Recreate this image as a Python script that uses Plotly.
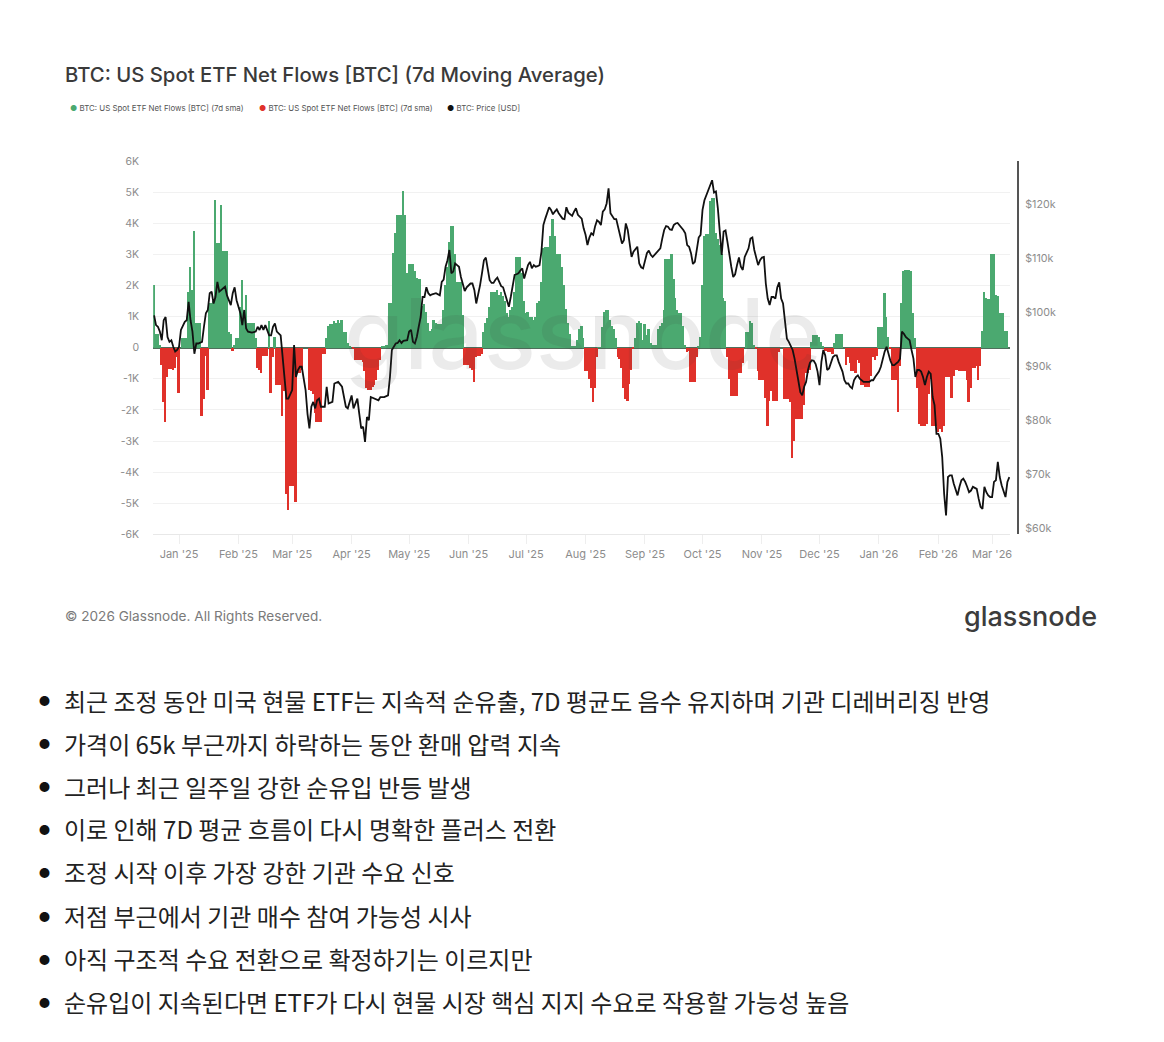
import pandas as pd
import plotly.graph_objects as go

# Daily ETF net flows (BTC, 7d sma) per month
flow_dec24 = [2000,430,430,100,-550,-1750,-2400,-950,-680,-680,-700,-650,-300]
flow_jan25 = [-1450,0,300,300,300,1800,2600,1850,3750,780,780,780,-2200,-1650,-250,-1350,1450,1450,1500,4750,3350,3350,4600,3100,3100,3100,500,450,-100,100,300]
flow_feb25 = [300,1300,2170,1000,1700,800,800,800,800,300,-650,-700,-800,-250,-250,-250,850,-1450,-300,350,-1200,-1200,-1200,-2200,-1400,-4700,-5200,-4450]
flow_mar25 = [-4450,-4450,-4950,-800,-800,-700,0,0,0,-1350,-1400,-1500,-2100,-2400,-2400,-2400,-200,-200,300,700,750,750,850,800,900,800,900,500,500,150,50]
flow_apr25 = [0,-50,-380,-380,-380,-400,-450,-750,-1300,-1350,-1350,-1250,-1200,-1050,-700,-400,50,50,80,100,1450,1450,3050,3700,4250,4250,4250,5050,4250,2400]
flow_may25 = [2700,2700,2700,2450,2250,2200,2200,1350,1400,1150,800,550,600,900,800,750,750,750,1200,2000,2600,3400,3900,3900,3000,2100,2100,2100,1050,-550,-550]
flow_jun25 = [-550,-650,-700,-1100,-300,-250,-250,-200,500,800,950,1300,1800,1800,1800,1850,1700,1800,1650,1500,1100,1000,1200,1300,1800,2900,2900,2900,2400,1500]
flow_jul25 = [1100,1150,1000,1000,900,1000,1450,1500,2100,3200,3250,3250,3250,3600,4150,3600,3000,3000,3000,2600,2000,1250,800,450,50,50,50,250,600,700,300]
flow_aug25 = [-750,-750,-1000,-1300,-1750,-1300,-300,20,20,650,1150,1200,1200,900,700,600,300,-300,-350,-650,-1300,-1650,-1700,-1150,-700,-50,300,800,850,800,250]
flow_sep25 = [750,400,600,150,100,100,100,600,700,800,1200,2850,2850,2850,3000,2200,1600,1200,1100,1100,700,100,-150,-100,-1100,-1100,-1100,-300,50,350]
flow_oct25 = [2000,3600,3650,3650,4700,4800,4800,3700,3500,3300,3000,1600,1500,-300,-1000,-1550,-1550,-1550,-1550,-800,-800,-500,0,500,500,850,800,100,-50,-750,-1050]
flow_nov25 = [-1050,-1050,-1600,-2500,-1700,-1400,-1700,-1700,-1700,-150,0,0,-1650,-1650,-1650,-1750,-3550,-3000,-2300,-2300,-2300,-2300,-1850,-800,-800,-700,200,400,400,400]
flow_dec25 = [350,200,50,-100,-100,-150,-150,-200,150,450,450,450,450,0,-550,-300,-500,-750,-750,-800,-400,-500,-1200,-1200,-1250,-1250,-1250,-900,-300,-400,-250]
flow_jan26 = [650,650,650,1750,1000,350,-50,-1050,-1050,-1050,-2050,-600,1450,2450,2500,2500,2500,2450,1100,300,-1300,-2450,-2500,-2500,-2500,-2450,-1500,-1000,-2500,-2500,-2500]
flow_feb26 = [-2700,-2600,-2700,-2500,-950,-950,-950,-1600,-900,-700,-700,-750,-750,-750,-750,-1050,-1750,-1300,-650,-650,-600,-1050,-600,550,1800,1600,1550,1550]
flow_mar26 = [3000,3000,1700,1650,1100,1100,1100,550,550]

flow_months = [("2024-12-19",flow_dec24),("2025-01-01",flow_jan25),("2025-02-01",flow_feb25),("2025-03-01",flow_mar25),
               ("2025-04-01",flow_apr25),("2025-05-01",flow_may25),("2025-06-01",flow_jun25),("2025-07-01",flow_jul25),
               ("2025-08-01",flow_aug25),("2025-09-01",flow_sep25),("2025-10-01",flow_oct25),("2025-11-01",flow_nov25),
               ("2025-12-01",flow_dec25),("2026-01-01",flow_jan26),("2026-02-01",flow_feb26),("2026-03-01",flow_mar26)]

# BTC price: (days since 2025-01-01, price in $k)
price_q1_25 = [(-13,99.4),(-12,97.6),(-11,97.3),(-10,96.4),(-9,94.8),(-8,98.5),(-7,99.1),(-6,95.4),(-5,94.5),(-4,94.8),(-3,93.6),(-2,92.7),(-1,93.0),
 (0,93.6),(1,96.7),(2,97.6),(3,98.2),(4,98.5),(5,101.9),(6,98.5),(7,96.4),(8,92.3),(9,94.2),(10,94.2),(11,94.3),(12,94.5),(13,97.3),(14,99.8),(15,100.4),(16,103.5),(17,103.8),(18,101.6),(19,102.8),(20,105.6),(21,103.8),(22,104.1),(24,104.7),(25,103.1),(27,101.3),(28,103.5),(29,104.6),(30,102.2),
 (32,99.8),(33,97.6),(34,100.4),(35,97.0),(36,96.4),(38,96.2),(40,96.4),(41,97.3),(42,96.7),(43,97.6),(44,96.7),(45,97.6),(46,96.7),(47,95.7),(48,95.7),(49,97.3),(50,97.9),(51,96.4),(53,95.7),(54,91.7),(55,86.8),(56,84.0),(57,84.0),
 (59,85.6),(60,93.9),(61,88.0),(62,89.3),(63,89.9),(64,89.9),(65,88.0),(66,85.6),(67,81.2),(68,78.5),(69,82.5),(70,83.4),(71,82.2),(72,83.7),(73,84.0),(74,82.5),(76,82.5),(77,86.2),(78,83.1),(80,83.4),(81,86.8),(83,87.1),(85,86.2),(87,82.5),(88,82.2)]
price_q2_25 = [(90,84.6),(91,82.2),(93,84.0),(94,81.2),(95,78.5),(96,78.8),(97,76.0),(98,80.6),(99,80.0),(100,84.3),(102,84.0),(104,83.7),(105,84.3),(107,84.3),(109,84.6),(110,88.0),(111,93.0),(112,93.6),(113,94.2),(114,94.3),(115,94.8),(116,94.3),(117,94.7),(119,94.8),
 (120,96.4),(121,96.7),(122,94.5),(123,94.2),(124,95.4),(125,97.3),(126,99.1),(127,102.8),(128,102.8),(129,104.6),(130,103.5),(131,103.1),(132,103.3),(134,103.5),(136,103.1),(137,105.6),(138,106.0),(139,108.4),(140,109.6),(141,111.5),(142,107.2),(143,107.5),(144,109.0),(145,108.7),(146,108.4),(147,106.5),(148,105.0),(149,103.9),(150,104.6),
 (151,105.0),(152,105.3),(153,105.3),(154,104.1),(155,101.6),(156,103.1),(157,105.0),(158,107.2),(159,109.6),(160,110.1),(161,108.1),(162,105.9),(163,105.4),(164,105.4),(165,106.0),(166,106.4),(167,105.6),(168,104.8),(169,104.6),(170,103.5),(171,102.2),(172,101.0),(173,102.8),(174,105.0),(175,106.9),(176,107.0),(177,107.2),(178,107.7),(179,108.1),(180,106.2)]
price_q3_25 = [(181,107.5),(182,108.7),(183,109.3),(184,108.1),(185,108.7),(186,108.4),(187,108.5),(188,108.7),(189,111.2),(190,116.1),(191,117.3),(192,118.3),(193,119.4),(194,118.9),(195,118.1),(196,118.6),(197,119.0),(198,118.3),(199,117.8),(200,117.3),(201,117.2),(202,119.4),(203,118.4),(204,118.0),(205,117.8),(206,118.6),(207,119.2),(208,118.0),(209,117.7),(210,117.3),(211,115.5),
 (212,114.3),(213,112.4),(214,113.8),(215,114.6),(216,114.3),(217,115.9),(218,117.0),(219,116.7),(220,116.1),(221,118.6),(222,119.0),(223,120.1),(224,122.9),(225,118.3),(226,117.7),(227,117.2),(228,117.2),(229,115.8),(230,114.3),(231,112.7),(232,113.3),(233,116.4),(234,115.2),(235,113.0),(236,110.2),(237,111.2),(238,111.6),(239,112.1),(240,109.0),(241,108.3),(242,108.1),
 (243,109.6),(244,110.9),(245,111.4),(246,110.6),(247,110.2),(248,110.6),(249,111.2),(250,111.5),(251,111.8),(252,113.6),(253,115.2),(254,115.9),(255,115.8),(256,115.3),(257,115.2),(258,116.1),(259,116.4),(260,116.5),(261,116.1),(262,115.7),(263,115.2),(264,114.6),(265,112.4),(266,112.1),(267,110.9),(268,108.9),(269,109.3),(270,111.5),(271,113.8),(272,114.3)]
price_q4_25 = [(273,118.9),(274,120.7),(275,121.7),(276,122.6),(277,123.5),(278,124.4),(279,122.1),(280,122.3),(281,119.2),(282,114.0),(283,110.6),(284,114.9),(285,115.1),(286,113.0),(287,110.2),(288,108.4),(289,106.5),(290,107.0),(291,108.7),(292,110.1),(293,108.4),(294,107.8),(295,110.2),(296,111.2),(297,111.8),(298,113.6),(299,113.8),(300,111.5),(301,109.9),(302,108.7),(303,109.6),
 (304,110.1),(305,110.2),(306,105.3),(307,102.5),(308,101.3),(309,102.8),(310,102.8),(311,102.5),(312,104.6),(313,105.5),(314,102.5),(315,101.6),(316,97.6),(317,95.1),(318,94.5),(319,93.6),(320,93.0),(321,91.4),(322,89.3),(323,86.5),(324,85.2),(325,84.6),(326,86.2),(327,87.1),(328,89.3),(329,90.6),(330,91.1),(331,91.0),(332,90.4),(333,89.0),
 (334,86.5),(335,90.8),(336,93.0),(337,92.0),(338,89.3),(339,89.6),(340,90.5),(341,91.7),(342,92.0),(343,92.0),(344,90.8),(345,89.9),(346,89.0),(347,87.4),(348,86.8),(349,86.8),(350,86.2),(351,85.9),(352,87.4),(353,88.0),(354,88.3),(355,87.7),(356,87.3),(357,87.1),(358,87.1),(359,87.1),(360,87.1),(361,87.4),(362,87.4),(363,88.0),(364,88.5)]
price_q1_26 = [(365,89.0),(366,89.9),(367,91.4),(368,92.7),(369,93.6),(370,92.0),(371,91.0),(372,90.2),(373,90.2),(374,90.5),(375,90.8),(376,91.4),(377,96.4),(378,96.0),(379,95.4),(380,95.1),(381,94.8),(382,93.0),(383,91.4),(384,88.0),(385,89.3),(386,89.3),(387,89.0),(388,88.0),(389,86.5),(390,88.0),(391,89.0),(392,88.6),(393,84.3),(394,82.8),(395,77.5),
 (396,77.5),(397,76.6),(398,73.2),(399,66.4),(400,62.4),(401,69.5),(402,69.8),(403,69.8),(404,68.3),(405,67.0),(406,66.1),(407,67.7),(408,68.9),(409,69.2),(410,68.6),(411,67.7),(412,66.7),(413,67.0),(414,67.7),(415,67.5),(416,67.3),(417,65.5),(418,64.0),(419,63.6),(420,67.7),(421,66.7),(422,66.1),(423,65.8),
 (424,65.8),(425,68.6),(426,68.9),(427,72.3),(428,69.5),(429,68.0),(430,66.7),(431,65.8),(432,68.6),(433,69.5)]

# Axis ticks
flow_tickvals = [-6000,-5000,-4000,-3000,-2000,-1000,0,1000,2000,3000,4000,5000,6000]
flow_ticktext = ["-6K","-5K","-4K","-3K","-2K","-1K","0","1K","2K","3K","4K","5K","6K"]
price_tickvals = [60000,70000,80000,90000,100000,110000,120000]
price_ticktext = ["$60k","$70k","$80k","$90k","$100k","$110k","$120k"]
date_tickvals = ["2025-01-01","2025-02-01","2025-03-01","2025-04-01","2025-05-01","2025-06-01","2025-07-01","2025-08-01","2025-09-01","2025-10-01","2025-11-01","2025-12-01","2026-01-01","2026-02-01","2026-03-01"]
date_ticktext = ["Jan '25","Feb '25","Mar '25","Apr '25","May '25","Jun '25","Jul '25","Aug '25","Sep '25","Oct '25","Nov '25","Dec '25","Jan '26","Feb '26","Mar '26"]

bullets = ["최근 조정 동안 미국 현물 ETF는 지속적 순유출, 7D 평균도 음수 유지하며 기관 디레버리징 반영",
           "가격이 65k 부근까지 하락하는 동안 환매 압력 지속",
           "그러나 최근 일주일 강한 순유입 반등 발생",
           "이로 인해 7D 평균 흐름이 다시 명확한 플러스 전환",
           "조정 시작 이후 가장 강한 기관 수요 신호",
           "저점 부근에서 기관 매수 참여 가능성 시사",
           "아직 구조적 수요 전환으로 확정하기는 이르지만",
           "순유입이 지속된다면 ETF가 다시 현물 시장 핵심 지지 수요로 작용할 가능성 높음"]
bullet_y = [701,744,787,830,873,917,960,1003]

GREEN, RED = "#4BA970", "#E0312A"
W, H = 1164, 1042
LATIN = "Inter, Roboto, sans-serif"

def yfrac(y):
    return 1 - ((y - 5.8) / 0.989) / H

def xfrac(x):
    return x / 0.998 / W

dates, flows = [], []
for start, vals in flow_months:
    dates += list(pd.date_range(start, periods=len(vals), freq="D"))
    flows += vals
pos = [v if v > 0 else None for v in flows]
neg = [v if v < 0 else None for v in flows]

price_pts = price_q1_25 + price_q2_25 + price_q3_25 + price_q4_25 + price_q1_26
base = pd.Timestamp("2025-01-01")
price_x = [base + pd.Timedelta(days=d) for d, _ in price_pts]
price_y = [p * 1000 for _, p in price_pts]

DAY = 86400000
fig = go.Figure()
fig.add_bar(x=dates, y=pos, name="BTC: US Spot ETF Net Flows [BTC] (7d sma)", marker=dict(color=GREEN, line_width=0), width=DAY)
fig.add_bar(x=dates, y=neg, name="BTC: US Spot ETF Net Flows [BTC] (7d sma)", marker=dict(color=RED, line_width=0), width=DAY)
fig.add_scatter(x=price_x, y=price_y, name="BTC: Price [USD]", mode="lines", yaxis="y2", line=dict(color="#111111", width=1.8))

ann = []
def text(x, y, s, size, color="#333", font=LATIN, anchor="left", weight=400):
    ann.append(dict(xref="paper", yref="paper", x=xfrac(x), y=yfrac(y), text=s, showarrow=False, xanchor=anchor, yanchor="middle",
                    font=dict(size=size, color=color, family=font, weight=weight), borderpad=0, borderwidth=0))

text(65, 74, "BTC: US Spot ETF Net Flows [BTC] (7d Moving Average)", 20.3, "#3a3a3a", weight=500)
text(70, 108, f"<span style='color:{GREEN}'>●</span> BTC: US Spot ETF Net Flows [BTC] (7d sma)", 7.9, "#555")
text(259, 108, f"<span style='color:{RED}'>●</span> BTC: US Spot ETF Net Flows [BTC] (7d sma)", 7.9, "#555")
text(447, 108, "<span style='color:#111'>●</span> BTC: Price [USD]", 7.9, "#555")
text(583, 333.5, "glassnode", 97, "rgba(60,60,60,0.10)", anchor="center", weight=500)
text(65, 617, "© 2026 Glassnode. All Rights Reserved.", 13.6, "#7a7a7a")
text(1097, 617, "glassnode", 27, "#3c3c3c", anchor="right", weight=500)
KR = "'Noto Sans CJK KR', 'Noto Sans', sans-serif"
for s, y in zip(bullets, bullet_y):
    text(44, y, "●", 11, "#111", KR, anchor="center")
    text(64, y, s, 24, "#222", KR)

axis_font = dict(size=11, color="#8c8c8c", family=LATIN)
fig.update_layout(
    width=W, height=H, autosize=False, paper_bgcolor="white", plot_bgcolor="white",
    margin=dict(l=0, r=0, t=0, b=0, pad=0), barmode="overlay", bargap=0, showlegend=False,
    annotations=ann, font=dict(family=LATIN),
    xaxis=dict(type="date", domain=[xfrac(153.1), xfrac(1010)], range=["2024-12-18 12:00", "2026-03-10 12:00"],
               tickvals=date_tickvals, ticktext=date_ticktext, tickfont=axis_font, ticks="outside", ticklen=9,
               tickcolor="#eeeeee", showline=True, linecolor="#e8e8e8", linewidth=1, showgrid=False, anchor="y"),
    yaxis=dict(domain=[yfrac(535), yfrac(161)], range=[-6000, 6000], tickvals=flow_tickvals, ticktext=flow_ticktext,
               tickfont=dict(size=10.5, color="#8c8c8c", family=LATIN), showgrid=True, gridcolor="#f1f1f1", gridwidth=1, zeroline=True,
               zerolinecolor="#4f6f5c", zerolinewidth=1.5, ticks="outside", ticklen=11, tickcolor="white", anchor="x"),
    yaxis2=dict(overlaying="y", side="right", anchor="free", position=xfrac(1018), range=[58890, 127960],
                tickvals=price_tickvals, ticktext=price_ticktext, tickfont=dict(size=10.7, color="#8c8c8c", family=LATIN),
                showgrid=False, zeroline=False, showline=True, linecolor="#555555", linewidth=1.6,
                ticks="outside", ticklen=4, tickcolor="white"),
)
fig.write_html("out.html", post_script="document.body.style.margin='0';", config={"displayModeBar": False})
